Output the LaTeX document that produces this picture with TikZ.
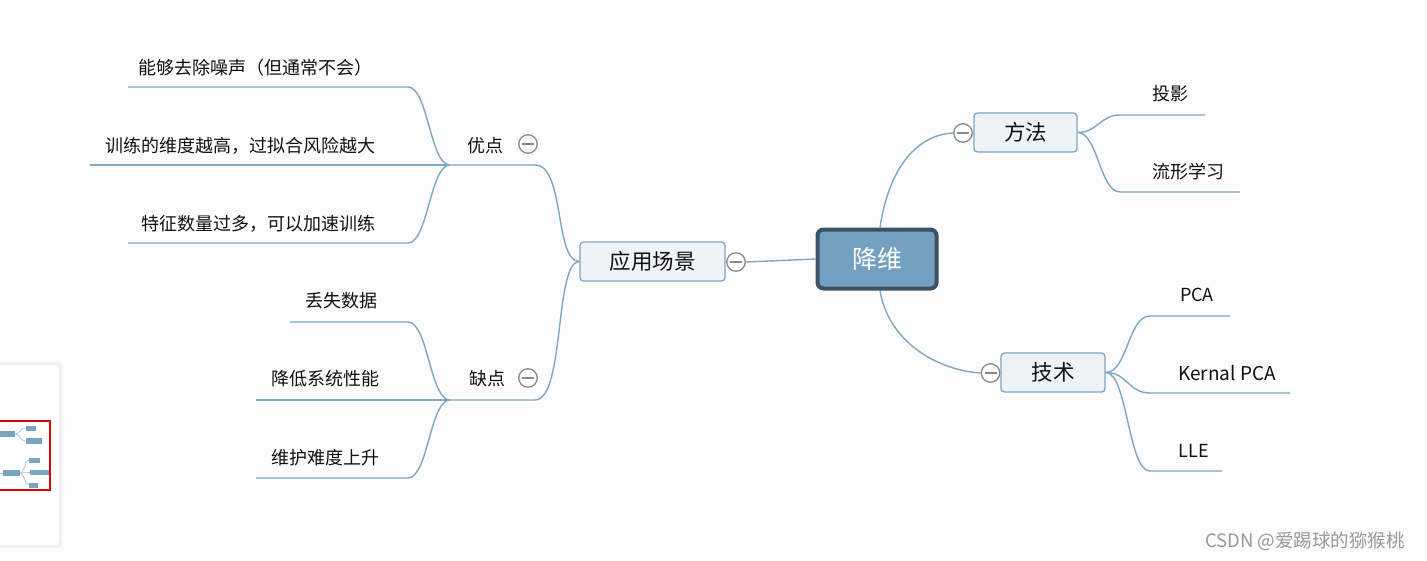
\documentclass[tikz,border=0pt]{standalone}
\usepackage{fontspec}
\setmainfont{Noto Sans CJK SC}
\usetikzlibrary{backgrounds}
\definecolor{bgc}{HTML}{FCFCFC}
\definecolor{linkc}{HTML}{7FA7C4}
\definecolor{boxf}{HTML}{EEF3F7}
\definecolor{boxb}{HTML}{7EA6C4}
\definecolor{rootf}{HTML}{73A0C0}
\definecolor{rootb}{HTML}{3B5365}
\definecolor{togc}{HTML}{8A8A8A}
\definecolor{txt}{HTML}{111111}
\definecolor{thumbc}{HTML}{7BA3C2}
\tikzset{
  link/.style={draw=linkc, line width=1.4pt},
  subtopic/.style={draw=boxb, fill=boxf, rounded corners=3.5pt, line width=1.3pt,
    minimum height=39pt, inner sep=0pt, text=txt, font=\fontsize{21.5}{24}\selectfont},
  roottopic/.style={draw=rootb, fill=rootf, rounded corners=6pt, line width=4pt,
    minimum width=119pt, minimum height=59pt, inner sep=0pt, text=white,
    font=\fontsize{25}{28}\selectfont},
  leaf/.style={inner sep=0pt, text=txt, font=\fontsize{18}{20}\selectfont},
  toggle/.style={circle, draw=togc, fill=white, line width=1.3pt, minimum size=18.5pt,
    inner sep=0pt, path picture={\draw[togc, line width=1.3pt]
      ([xshift=-6pt]path picture bounding box.center) -- ([xshift=6pt]path picture bounding box.center);}},
}
\begin{document}
\begin{tikzpicture}[x=1pt,y=-1pt]
\useasboundingbox (0,0) rectangle (1427,560);

% main nodes
\node[roottopic] (root) at (877,259) {降维};
\node[subtopic, minimum width=145pt] (app) at (652.5,261.5) {应用场景};
\node[toggle] (appT) at (736,262) {};
\node[subtopic, minimum width=103pt] (fangfa) at (1025.5,132.5) {方法};
\node[toggle] (fangfaT) at (963,133) {};
\node[subtopic, minimum width=104pt] (jishu) at (1053,372.5) {技术};
\node[toggle] (jishuT) at (990.5,373) {};

% second level on the left
\node[leaf] (you) at (485,145.5) {优点};
\node[toggle] (youT) at (528,144) {};
\node[leaf] (que) at (487,379) {缺点};
\node[toggle] (queT) at (528,378) {};

% leaves
\node[leaf] (y1) at (255,68) {能够去除噪声（但通常不会）};
\node[leaf] (y2) at (240.5,145.5) {训练的维度越高，过拟合风险越大};
\node[leaf] (y3) at (258.5,223.5) {特征数量过多，可以加速训练};
\node[leaf] (q1) at (341,301) {丢失数据};
\node[leaf] (q2) at (325,379) {降低系统性能};
\node[leaf] (q3) at (325,458) {维护难度上升};
\node[leaf] (f1) at (1170,94) {投影};
\node[leaf] (f2) at (1188,172) {流形学习};
\node[leaf] (t1) at (1197,295) {PCA};
\node[leaf, font=\fontsize{19}{21}\selectfont] (t2) at (1227,373) {Kernal PCA};
\node[leaf] (t3) at (1194,451) {LLE};

% line end coordinates
\coordinate (ydR) at (535,165); \coordinate (ydL) at (450,165);
\coordinate (qdR) at (535,400); \coordinate (qdL) at (450,400);
\coordinate (y1R) at (408,87);  \coordinate (y1L) at (128,87);
\coordinate (y2L) at (90,165);
\coordinate (y3R) at (408,243); \coordinate (y3L) at (128,243);
\coordinate (q1R) at (408,322); \coordinate (q1L) at (290,322);
\coordinate (q2L) at (256,400);
\coordinate (q3R) at (408,478); \coordinate (q3L) at (256,478);
\coordinate (f1L) at (1120,115); \coordinate (f1R) at (1205,115);
\coordinate (f2L) at (1120,192); \coordinate (f2R) at (1240,192);
\coordinate (t1L) at (1150,316); \coordinate (t1R) at (1230,316);
\coordinate (t2L) at (1150,393); \coordinate (t2R) at (1290,393);
\coordinate (t3L) at (1150,471); \coordinate (t3R) at (1222,471);

% watermark
\node[text=gray!80, font=\fontsize{18.5}{20}\selectfont, inner sep=0pt] (wm) at (1305,541) {CSDN @爱踢球的猕猴桃};

\begin{scope}[on background layer]
\fill[bgc] (0,0) rectangle (1427,560);
% root links
\draw[link] (appT.east) -- (root.west);
\draw[link] ([xshift=3pt]root.north) .. controls +(8,-54) and +(-40,2) .. (fangfaT.west);
\draw[link] ([xshift=3pt]root.south) .. controls +(8,50) and +(-45,-3) .. (jishuT.west);
% left
\draw[link] (app.west) .. controls +(-25,0) and +(30,0) .. (ydR) -- (ydL);
\draw[link] (app.west) .. controls +(-25,0) and +(30,0) .. (qdR) -- (qdL);
\draw[link] (ydL) .. controls +(-20,0) and +(20,0) .. (y1R) -- (y1L);
\draw[link] (ydL) -- (y2L);
\draw[link] (ydL) .. controls +(-20,0) and +(20,0) .. (y3R) -- (y3L);
\draw[link] (qdL) .. controls +(-20,0) and +(20,0) .. (q1R) -- (q1L);
\draw[link] (qdL) -- (q2L);
\draw[link] (qdL) .. controls +(-20,0) and +(20,0) .. (q3R) -- (q3L);
% right
\draw[link] (fangfa.east) .. controls +(20,0) and +(-20,0) .. (f1L) -- (f1R);
\draw[link] (fangfa.east) .. controls +(20,0) and +(-20,0) .. (f2L) -- (f2R);
\draw[link] (jishu.east) .. controls +(22,0) and +(-22,0) .. (t1L) -- (t1R);
\draw[link] (jishu.east) .. controls +(22,0) and +(-22,0) .. (t2L) -- (t2R);
\draw[link] (jishu.east) .. controls +(22,0) and +(-22,0) .. (t3L) -- (t3R);
% thumbnail panel
\fill[black!6, rounded corners=4pt] (-4,362) rectangle (62,548);
\fill[white, rounded corners=4pt] (-4,365) rectangle (59,545);
\fill[thumbc] (0,431) rectangle (15,437);
\fill[thumbc] (25.5,425.5) rectangle (36,430.5);
\fill[thumbc] (25.5,438) rectangle (41.5,443.5);
\draw[linkc!70, line width=0.7pt] (15,434) .. controls (20,434) and (20,428) .. (25.5,428);
\draw[linkc!70, line width=0.7pt] (15,434) .. controls (20,434) and (20,441) .. (25.5,441);
\draw[linkc!70, line width=0.7pt] (0,473) -- (3,473);
\fill[thumbc] (3.3,469.5) rectangle (20,476);
\fill[thumbc] (29.3,458) rectangle (40,462.7);
\fill[thumbc] (30,470) rectangle (49.3,475);
\fill[thumbc] (29.3,482.7) rectangle (38.3,488);
\draw[linkc!70, line width=0.7pt] (20,473) .. controls (25,473) and (24,460) .. (29.3,460);
\draw[linkc!70, line width=0.7pt] (20,473) -- (30,472.5);
\draw[linkc!70, line width=0.7pt] (20,473) .. controls (25,473) and (24,485) .. (29.3,485);
\draw[red!85!black, line width=1.4pt] (-2,421) rectangle (50,490);
\end{scope}
\end{tikzpicture}
\end{document}
